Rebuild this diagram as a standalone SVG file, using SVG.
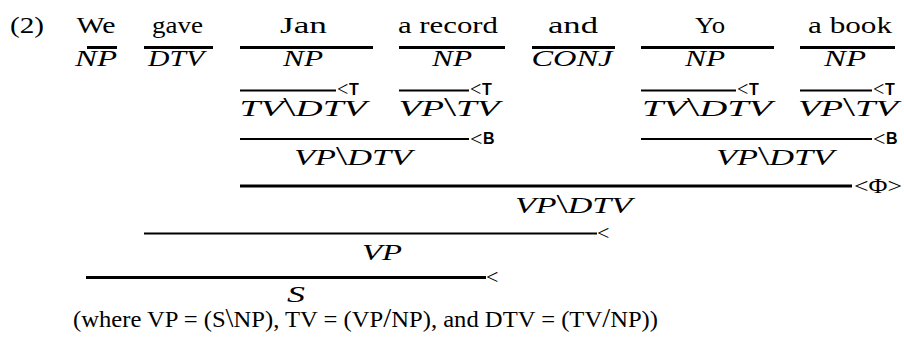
<svg xmlns="http://www.w3.org/2000/svg" width="904" height="343" viewBox="0 0 904 343">
<style>
.w{font-family:"Liberation Serif","DejaVu Serif",serif;font-size:24px;fill:#000;text-anchor:middle}
.c{font-family:"Liberation Serif","DejaVu Serif",serif;font-style:italic;font-size:23px;fill:#000;text-anchor:middle}
.bs{font-style:normal;font-size:27px}
.lt{font-family:"Liberation Serif","DejaVu Serif",serif;font-size:22px;fill:#000}
.ls{font-family:"Liberation Serif","DejaVu Serif",serif;font-size:20px;fill:#000}
.r{font-family:"Liberation Sans","DejaVu Sans",sans-serif;font-weight:bold;font-size:16px;fill:#000}
.f{font-family:"Liberation Serif","DejaVu Serif",serif;font-size:24px;fill:#000}
.k{stroke:#000;stroke-width:3}
.n{stroke:#000;stroke-width:2}
</style>
<text class="f" x="10" y="33" textLength="34" lengthAdjust="spacingAndGlyphs">(2)</text>
<g id="we"><text class="w" x="96" y="33" textLength="39" lengthAdjust="spacingAndGlyphs">We</text><text class="c" x="96" y="66" textLength="42" lengthAdjust="spacingAndGlyphs">NP</text></g>
<g id="gave"><text class="w" x="177.5" y="33" textLength="51" lengthAdjust="spacingAndGlyphs">gave</text><text class="c" x="176" y="66" textLength="56" lengthAdjust="spacingAndGlyphs">DTV</text></g>
<g id="jan"><text class="w" x="303.5" y="33" textLength="47" lengthAdjust="spacingAndGlyphs">Jan</text><text class="c" x="303" y="66" textLength="40" lengthAdjust="spacingAndGlyphs">NP</text><text class="c" x="303" y="116" textLength="127" lengthAdjust="spacingAndGlyphs">TV<tspan class="bs">\</tspan>DTV</text></g>
<g id="record"><text class="w" x="448" y="33" textLength="100" lengthAdjust="spacingAndGlyphs">a record</text><text class="c" x="452" y="66" textLength="40" lengthAdjust="spacingAndGlyphs">NP</text><text class="c" x="449" y="116" textLength="101" lengthAdjust="spacingAndGlyphs">VP<tspan class="bs">\</tspan>TV</text></g>
<g id="and"><text class="w" x="573" y="33" textLength="50" lengthAdjust="spacingAndGlyphs">and</text><text class="c" x="572" y="66" textLength="81" lengthAdjust="spacingAndGlyphs">CONJ</text></g>
<g id="yo"><text class="w" x="710" y="33" textLength="30" lengthAdjust="spacingAndGlyphs">Yo</text><text class="c" x="705" y="66" textLength="40" lengthAdjust="spacingAndGlyphs">NP</text><text class="c" x="707" y="116" textLength="130" lengthAdjust="spacingAndGlyphs">TV<tspan class="bs">\</tspan>DTV</text></g>
<g id="book"><text class="w" x="850" y="33" textLength="84" lengthAdjust="spacingAndGlyphs">a book</text><text class="c" x="845" y="66" textLength="42" lengthAdjust="spacingAndGlyphs">NP</text><text class="c" x="848" y="116" textLength="100" lengthAdjust="spacingAndGlyphs">VP<tspan class="bs">\</tspan>TV</text></g>
<g id="left-comp"><text class="c" x="353" y="165" textLength="118" lengthAdjust="spacingAndGlyphs">VP<tspan class="bs">\</tspan>DTV</text></g>
<g id="right-comp"><text class="c" x="775" y="165" textLength="118" lengthAdjust="spacingAndGlyphs">VP<tspan class="bs">\</tspan>DTV</text></g>
<g id="coord"><text class="c" x="573.5" y="213" textLength="117" lengthAdjust="spacingAndGlyphs">VP<tspan class="bs">\</tspan>DTV</text></g>
<g id="vp"><text class="c" x="382" y="260" textLength="40" lengthAdjust="spacingAndGlyphs">VP</text></g>
<g id="s"><text class="c" x="296" y="302" textLength="18" lengthAdjust="spacingAndGlyphs">S</text></g>
<g id="connectors">
<line class="k" x1="87" y1="47.5" x2="117" y2="47.5"/>
<line class="k" x1="144" y1="47.5" x2="213" y2="47.5"/>
<line class="k" x1="240" y1="47.5" x2="373" y2="47.5"/>
<line class="k" x1="399" y1="47.5" x2="505" y2="47.5"/>
<line class="k" x1="532" y1="47.5" x2="615" y2="47.5"/>
<line class="k" x1="641" y1="47.5" x2="774" y2="47.5"/>
<line class="k" x1="800" y1="47.5" x2="895" y2="47.5"/>
<line class="n" x1="240" y1="90.5" x2="336" y2="90.5"/><text class="ls" x="337" y="95.5">&lt;</text><text class="r" x="349" y="95">T</text>
<line class="n" x1="399" y1="90.5" x2="469" y2="90.5"/><text class="ls" x="470" y="95.5">&lt;</text><text class="r" x="482" y="95">T</text>
<line class="n" x1="641" y1="90.5" x2="736" y2="90.5"/><text class="ls" x="737" y="95.5">&lt;</text><text class="r" x="749" y="95">T</text>
<line class="n" x1="800" y1="90.5" x2="872" y2="90.5"/><text class="ls" x="873" y="95.5">&lt;</text><text class="r" x="885" y="95">T</text>
<line class="n" x1="240" y1="139" x2="469" y2="139"/><text class="lt" x="470" y="145.5">&lt;</text><text class="r" x="483" y="144">B</text>
<line class="n" x1="641" y1="139" x2="872" y2="139"/><text class="lt" x="873" y="145.5">&lt;</text><text class="r" x="886" y="144">B</text>
<line class="k" x1="240" y1="186" x2="852" y2="186"/><text class="lt" x="854" y="193" textLength="48" lengthAdjust="spacingAndGlyphs" style="font-size:20px">&lt;Φ&gt;</text>
<line class="n" x1="144" y1="233.5" x2="597" y2="233.5"/><text class="lt" x="597" y="240">&lt;</text>
<line class="k" x1="86" y1="277.5" x2="486" y2="277.5"/><text class="lt" x="486" y="284">&lt;</text>
</g>
<text class="f" x="73" y="327" textLength="585" lengthAdjust="spacingAndGlyphs">(where VP = (S<tspan style="font-size:28px">\</tspan>NP), TV = (VP<tspan style="font-size:28px">/</tspan>NP), and DTV = (TV<tspan style="font-size:28px">/</tspan>NP))</text>
</svg>
